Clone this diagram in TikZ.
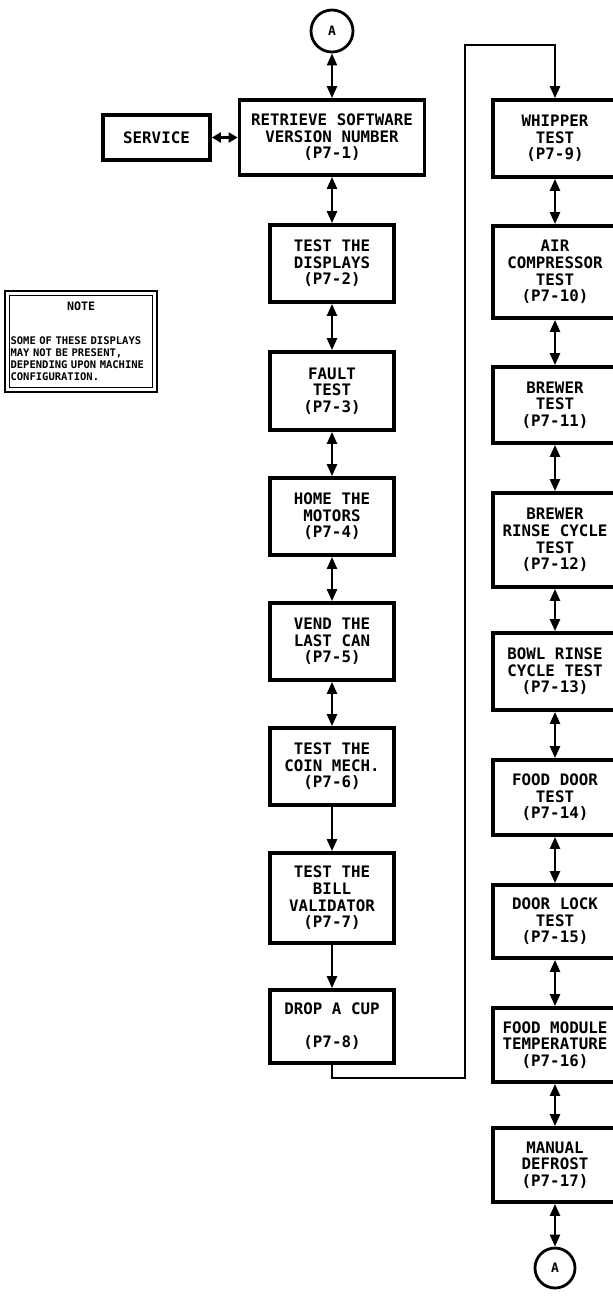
\documentclass[tikz,border=0pt]{standalone}
\usepackage{fontspec}
\setmonofont{DejaVu Sans Mono}
\newfontfamily\notefont{DejaVu Sans Mono}
\usetikzlibrary{
    arrows.meta,
    calc,
    positioning
}

\tikzset{
    stepbox/.style={draw, line width=1.9pt, align=center, inner sep=1pt,
        minimum width=62pt, minimum height=38.5pt,
        font=\ttfamily\bfseries\fontsize{7.9}{8.3}\selectfont},
    conn/.style={draw, circle, line width=1.4pt, minimum size=21pt,
        inner sep=0pt, font=\ttfamily\bfseries\fontsize{6.5}{7}\selectfont},
    notebox/.style={draw, line width=0.6pt, align=left, text width=70.5pt,
        inner xsep=0.5pt, inner ysep=2pt, minimum height=46pt, anchor=north west,
        font=\notefont\bfseries\fontsize{5.25}{6}\selectfont},
    both/.style={line width=1.2pt,
        {Triangle[length=6pt,width=5pt]}-{Triangle[length=6pt,width=5pt]}},
    flow/.style={line width=1.2pt, -{Triangle[length=6pt,width=5pt]}}
}

\begin{document}
\begin{tikzpicture}[x=0.5pt, y=-0.5pt]
    \useasboundingbox (0,0) rectangle (612,1298);

    % left column
    \node[conn] (atop) at (332,31) {A};
    \node[stepbox, minimum width=92.5pt, minimum height=37.5pt] (ret) at (332,137.5)
        {RETRIEVE SOFTWARE\\VERSION NUMBER\\(P7-1)};
    \node[stepbox, minimum width=53.5pt, minimum height=22.5pt] (svc) at (156.5,137.5) {SERVICE};
    \node[stepbox] (disp) at (332,263.5) {TEST THE\\DISPLAYS\\(P7-2)};
    \node[stepbox, minimum height=39pt] (fault) at (332,391) {FAULT\\TEST\\(P7-3)};
    \node[stepbox] (home) at (332,516.5) {HOME THE\\MOTORS\\(P7-4)};
    \node[stepbox] (vend) at (332,641.5) {VEND THE\\LAST CAN\\(P7-5)};
    \node[stepbox] (coin) at (332,766.5) {TEST THE\\COIN MECH.\\(P7-6)};
    \node[stepbox, minimum height=45pt] (bill) at (332,898) {TEST THE\\BILL\\VALIDATOR\\(P7-7)};
    \node[stepbox, minimum height=36.5pt] (cup) at (332,1026.5) {DROP A CUP\\ \\(P7-8)};

    % note
    \node[notebox] (note) at (9,295)
        {\hfill{\fontsize{5.8}{6}\selectfont NOTE}\hfill\null\\[11pt]
         SOME OF THESE DISPLAYS\\MAY NOT BE PRESENT,\\DEPENDING UPON MACHINE\\CONFIGURATION.};
    \draw[line width=1.1pt] ([shift={(-4,-4)}]note.north west) rectangle ([shift={(4,4)}]note.south east);

    % right column
    \begin{scope}[every node/.append style={minimum width=63pt}]
        \node[stepbox] (whip) at (555,138.5) {WHIPPER\\TEST\\(P7-9)};
        \node[stepbox, minimum height=46pt] (air) at (555,272) {AIR\\COMPRESSOR\\TEST\\(P7-10)};
        \node[stepbox, minimum height=38pt] (brew) at (555,405) {BREWER\\TEST\\(P7-11)};
        \node[stepbox, minimum height=47pt] (rinse) at (555,540) {BREWER\\RINSE CYCLE\\TEST\\(P7-12)};
        \node[stepbox] (bowl) at (555,671.5) {BOWL RINSE\\CYCLE TEST\\(P7-13)};
        \node[stepbox, minimum height=37.5pt] (fdoor) at (555,797.5) {FOOD DOOR\\TEST\\(P7-14)};
        \node[stepbox, minimum height=36.5pt] (lock) at (555,921.5) {DOOR LOCK\\TEST\\(P7-15)};
        \node[stepbox, minimum height=37pt] (fmod) at (555,1045) {FOOD MODULE\\TEMPERATURE\\(P7-16)};
        \node[stepbox, minimum height=37pt] (defr) at (555,1165) {MANUAL\\DEFROST\\(P7-17)};
    \end{scope}
    \node[conn, minimum size=20pt] (abot) at (555,1268) {A};

    \coordinate (lo) at (465,1078);
    \coordinate (hi) at (465,45);

    \draw[both]
        (atop) -- (ret);
    \draw[line width=1.2pt, {Triangle[length=4.5pt,width=5pt]}-{Triangle[length=4.5pt,width=5pt]}]
        (svc) -- (ret);
    \draw[both] (ret) -- (disp);
    \draw[both] (disp) -- (fault);
    \draw[both] (fault) -- (home);
    \draw[both] (home) -- (vend);
    \draw[both] (vend) -- (coin);
    \draw[flow] (coin) -- (bill);
    \draw[flow] (bill) -- (cup);
    \draw[flow] (cup.south) |- (lo) -- (hi) -| (whip.north);
    \draw[both] (whip) -- (air);
    \draw[both] (air) -- (brew);
    \draw[both] (brew) -- (rinse);
    \draw[both] (rinse) -- (bowl);
    \draw[both] (bowl) -- (fdoor);
    \draw[both] (fdoor) -- (lock);
    \draw[both] (lock) -- (fmod);
    \draw[both] (fmod) -- (defr);
    \draw[both] (defr) -- (abot);
\end{tikzpicture}
\end{document}
